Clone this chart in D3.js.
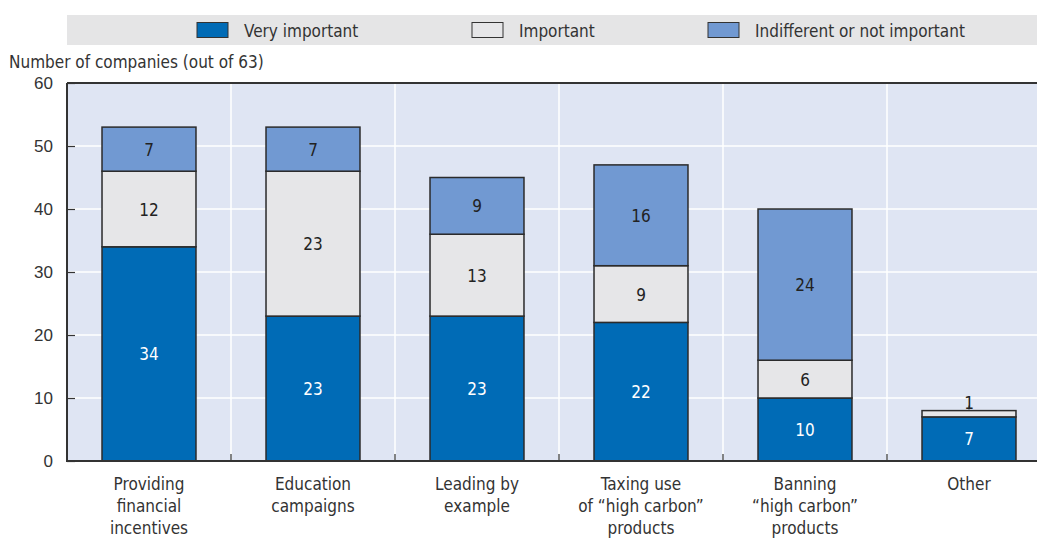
<!DOCTYPE html>
<html>
<head>
<meta charset="utf-8">
<script src="https://cdn.jsdelivr.net/npm/d3@7"></script>
<style>
  html, body { margin: 0; padding: 0; background: #fff; }
  svg { display: block; font-family: "DejaVu Sans Condensed", "DejaVu Sans", sans-serif; font-stretch: condensed; }
</style>
</head>
<body>
<svg id="chart" width="1037" height="538"></svg>
<script>
// Survey: importance of government measures, number of companies (out of 63)
const categories = [
  ["Providing", "financial", "incentives"],
  ["Education", "campaigns"],
  ["Leading by", "example"],
  ["Taxing use", "of \u201Chigh carbon\u201D", "products"],
  ["Banning", "\u201Chigh carbon\u201D", "products"],
  ["Other"]
];
const seriesNames = ["Very important", "Important", "Indifferent or not important"];
const veryImportant = [34, 23, 23, 22, 10, 7];
const important = [12, 23, 13, 9, 6, 1];
const indifferent = [7, 7, 9, 16, 24, 0];
const yTicks = [0, 10, 20, 30, 40, 50, 60];
const yTitle = "Number of companies (out of 63)";

const colors = ["#006BB6", "#E6E6E8", "#7199D2"];
const labelColors = ["#ffffff", "#222222", "#222222"];
const FS = 17;

const svg = d3.select("#chart");
const W = 1037;
const plot = { left: 67, right: 1051, top: 83, bottom: 461 };

const keys = categories.map(c => c.join(" "));
const rows = keys.map((k, i) => ({ key: k, s0: veryImportant[i], s1: important[i], s2: indifferent[i] }));
const stack = d3.stack().keys(["s0", "s1", "s2"])(rows);

const x = d3.scaleBand().domain(keys).range([plot.left, plot.right])
  .paddingInner(0.427).paddingOuter(0.2135);
const y = d3.scaleLinear().domain([0, 60]).range([plot.bottom, plot.top]);

// Legend band
const legend = svg.append("g");
legend.append("rect").attr("x", 67).attr("y", 15).attr("width", W - 67).attr("height", 30).attr("fill", "#E5E5E6");
const legendX = [197, 472, 708];
seriesNames.forEach((name, i) => {
  legend.append("rect").attr("x", legendX[i]).attr("y", 22.5).attr("width", 31).attr("height", 15)
    .attr("fill", colors[i]).attr("stroke", "#333").attr("stroke-width", 1);
  legend.append("text").attr("x", legendX[i] + 47).attr("y", 36.5)
    .attr("font-size", FS).attr("fill", "#333").text(name);
});

// Plot background
svg.append("rect").attr("x", plot.left).attr("y", plot.top)
  .attr("width", plot.right - plot.left).attr("height", plot.bottom - plot.top).attr("fill", "#DFE5F3");

// Horizontal gridlines
svg.append("g").selectAll("line").data(yTicks.slice(1, -1)).join("line")
  .attr("x1", plot.left).attr("x2", plot.right)
  .attr("y1", d => y(d)).attr("y2", d => y(d))
  .attr("stroke", "#fff").attr("stroke-width", 1.5);

// Vertical separators between categories
const seps = keys.slice(1).map(k => x(k) - x.step() * x.paddingInner() / 2);
svg.append("g").selectAll("line").data(seps).join("line")
  .attr("x1", d => d).attr("x2", d => d)
  .attr("y1", plot.top).attr("y2", plot.bottom)
  .attr("stroke", "#fff").attr("stroke-width", 1.5);
svg.append("g").selectAll("line").data(seps).join("line")
  .attr("x1", d => d).attr("x2", d => d)
  .attr("y1", plot.bottom - 7).attr("y2", plot.bottom)
  .attr("stroke", "#333").attr("stroke-width", 1.2);

// Stacked bars
const layers = svg.append("g").selectAll("g").data(stack).join("g")
  .attr("fill", (d, i) => colors[i]);
layers.selectAll("rect").data(d => d.filter(p => p[1] > p[0])).join("rect")
  .attr("x", d => x(d.data.key))
  .attr("width", x.bandwidth())
  .attr("y", d => y(d[1]))
  .attr("height", d => y(d[0]) - y(d[1]))
  .attr("stroke", "#2b2b2b").attr("stroke-width", 1.5);

// Value labels
stack.forEach((layer, li) => {
  layer.forEach(p => {
    const v = p[1] - p[0];
    if (v <= 0) return;
    const cx = x(p.data.key) + x.bandwidth() / 2;
    const h = y(p[0]) - y(p[1]);
    if (h >= 18) {
      svg.append("text").attr("x", cx).attr("y", (y(p[0]) + y(p[1])) / 2 + 6.5)
        .attr("text-anchor", "middle").attr("font-size", FS)
        .attr("fill", labelColors[li]).text(v);
    } else {
      svg.append("line").attr("x1", cx).attr("x2", cx)
        .attr("y1", y(p[1]) - 1).attr("y2", y(p[1]) - 5)
        .attr("stroke", "#333").attr("stroke-width", 1);
      svg.append("text").attr("x", cx).attr("y", y(p[1]) - 2)
        .attr("text-anchor", "middle").attr("font-size", FS)
        .attr("fill", "#222").text(v);
    }
  });
});

// Y axis
const yAxis = d3.axisRight(y).tickValues(yTicks).tickSize(8).tickFormat(d3.format("d"));
const yg = svg.append("g").attr("transform", `translate(${plot.left},0)`).call(yAxis);
yg.select(".domain").remove();
yg.selectAll(".tick line").attr("stroke", "#333").attr("stroke-width", 1.2);
yg.selectAll(".tick text").attr("x", -14).attr("text-anchor", "end").attr("dy", "0.35em")
  .attr("font-size", FS).attr("fill", "#333");

// Frame lines: left, top, bottom
svg.append("line").attr("x1", plot.left).attr("x2", plot.left).attr("y1", plot.top).attr("y2", plot.bottom)
  .attr("stroke", "#333").attr("stroke-width", 2);
svg.append("line").attr("x1", plot.left).attr("x2", plot.right).attr("y1", plot.top).attr("y2", plot.top)
  .attr("stroke", "#333").attr("stroke-width", 2);
svg.append("line").attr("x1", plot.left - 1).attr("x2", plot.right).attr("y1", plot.bottom).attr("y2", plot.bottom)
  .attr("stroke", "#333").attr("stroke-width", 2);

// Y title
svg.append("text").attr("x", 9).attr("y", 68).attr("font-size", FS).attr("fill", "#333").text(yTitle);

// Category labels
const xg = svg.append("g");
categories.forEach((lines, i) => {
  const cx = x(keys[i]) + x.bandwidth() / 2;
  const t = xg.append("text").attr("x", cx).attr("y", 490)
    .attr("text-anchor", "middle").attr("font-size", FS).attr("fill", "#333");
  lines.forEach((ln, j) => t.append("tspan").attr("x", cx).attr("dy", j ? 22 : 0).text(ln));
});
</script>
</body>
</html>
